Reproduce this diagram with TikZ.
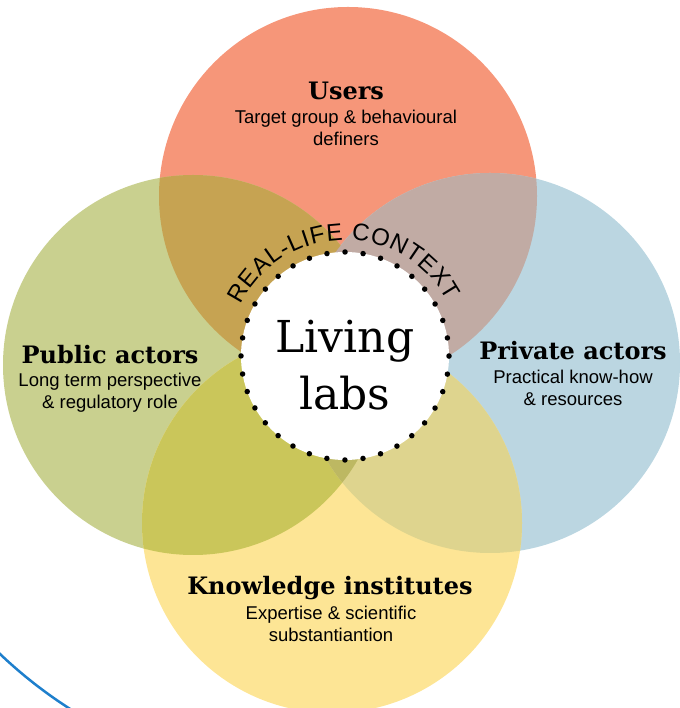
\documentclass[tikz,border=0pt]{standalone}
\usepackage{fontspec}
\setmainfont{Liberation Sans}
\newfontfamily\slab{DejaVu Serif}
\usetikzlibrary{decorations.text}
\definecolor{cU}{HTML}{F69679}
\definecolor{cP}{HTML}{C9D08F}
\definecolor{cR}{HTML}{BBD6E1}
\definecolor{cK}{HTML}{FDE595}
\definecolor{cUP}{HTML}{C6A352}
\definecolor{cUR}{HTML}{C1ABA4}
\definecolor{cPK}{HTML}{CAC65A}
\definecolor{cRK}{HTML}{DED48E}
\definecolor{cPRK}{HTML}{BDB862}
\definecolor{cBlue}{HTML}{1E7FCC}
\tikzset{
  heading/.style={anchor=base, inner sep=0pt, font=\slab\bfseries\fontsize{24}{28}\selectfont},
  sub/.style={anchor=base, inner sep=0pt, align=center, font=\fontsize{18.5}{22.5}\selectfont},
  centretext/.style={anchor=base, inner sep=0pt, font=\slab\fontsize{44}{50}\selectfont},
}
\begin{document}
\begin{tikzpicture}[x=1pt,y=1pt]
\useasboundingbox (0,0) rectangle (679,708);
\coordinate (U) at (348,512);
\coordinate (P) at (193,343);
\coordinate (R) at (490,345);
\coordinate (K) at (332,185);
% base circles
\fill[cU] (U) circle (189);
\fill[cP] (P) circle (190);
\fill[cR] (R) circle (190);
\fill[cK] (K) circle (190);
% overlaps
\begin{scope}
  \clip (U) circle (189);
  \fill[cUP] (P) circle (190);
  \fill[cUR] (R) circle (190);
\end{scope}
\begin{scope}
  \clip (K) circle (190);
  \fill[cPK] (P) circle (190);
  \fill[cRK] (R) circle (190);
  \clip (P) circle (190);
  \fill[cPRK] (R) circle (190);
\end{scope}
% centre
\node[circle, fill=white, minimum size=208pt, inner sep=0pt] (C) at (345,352) {};
\draw[line width=5.5pt, line cap=round, dash pattern=on 0pt off 18.15pt] (C.center) circle (104);
\node[centretext] (living) at (345,355) {Living};
\node[centretext] (labs) at (345,298) {labs};
% arc text
\path[decorate, decoration={text along path,
  text align={fit to path}, text format delimiters={|}{|},
  text={|\fontsize{24}{28}\selectfont|REAL-LIFE CONTEXT}}]
  (C.center) ++(154:116) arc (154:28:116);
% labels
\node[heading] (usersH) at (346,608) {Users};
\node[sub] (usersS) at (346,562) {Target group \& behavioural\\definers};
\node[heading] (publicH) at (110,344) {Public actors};
\node[sub] (publicS) at (110,299) {Long term perspective\\\& regulatory role};
\node[heading] (privateH) at (573,348) {Private actors};
\node[sub] (privateS) at (573,302) {Practical know-how\\\& resources};
\node[heading] (knowH) at (330,113) {Knowledge institutes};
\node[sub] (knowS) at (331,66) {Expertise \& scientific\\substantiantion};
% blue arc at the corner
\begin{scope}
  \clip (0,0) rectangle (679,708);
  \draw[cBlue, line width=2.5pt] (320,390) ++(222:464) arc (222:240:464);
\end{scope}
\end{tikzpicture}
\end{document}
